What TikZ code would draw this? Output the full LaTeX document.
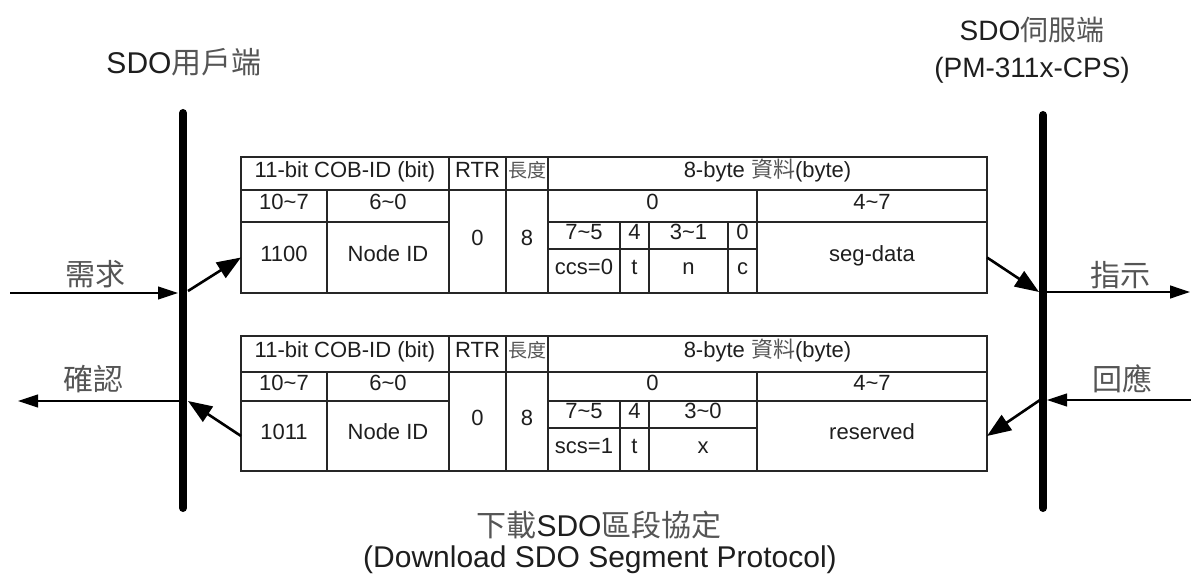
\documentclass[tikz,border=0pt]{standalone}
\usepackage{fontspec}
\setmainfont{Liberation Sans}
\newfontfamily\cjk{Noto Sans CJK TC}
\usetikzlibrary{arrows.meta}
\definecolor{txt}{HTML}{1E1E1E}
\definecolor{cjkc}{HTML}{555555}
\newcommand\cellbox[6]{\node[cell, minimum width={(#4-#2)*1pt}, minimum height={(#5-#3)*1pt}] (#1) at ({(#2+#4)/2},{(#3+#5)/2}) {#6};}
\newcommand\zh[1]{{\cjk\color{cjkc}#1}}
\tikzset{
  cell/.style={draw=black!85, line width=1.1pt, inner sep=0pt, outer sep=0pt,
    text=txt, font=\fontsize{22}{25}\selectfont, text height=0.72em, text depth=0pt, anchor=center},
  bar/.style={line width=8pt, line cap=round},
  thinarrow/.style={line width=1.2pt, -{Triangle[length=20pt 0 0,width=13pt 0 0]}},
  thickarrow/.style={line width=2.6pt, -{Triangle[length=24pt 0 0,width=18pt 0 0]}},
  lbl/.style={text=txt, inner sep=0pt},
}
\begin{document}
\begin{tikzpicture}[x=1pt,y=-1pt]
\useasboundingbox (0,0) rectangle (1191,577);
% bars
\coordinate (LT) at (183,113);
\coordinate (LB) at (183,508);
\coordinate (RT) at (1043,115);
\coordinate (RB) at (1043,508);
\draw[bar] (LT) -- (LB);
\draw[bar] (RT) -- (RB);
% titles
\node[lbl, font=\fontsize{30}{34}\selectfont] (client) at (184,62) {SDO\zh{用戶端}};
\node[lbl, font=\fontsize{28}{32}\selectfont] (server) at (1032,30) {SDO\zh{伺服端}};
\node[lbl, font=\fontsize{28}{32}\selectfont] (server2) at (1032,70) {(PM-311x-CPS)};
\node[lbl, font=\fontsize{30}{34}\selectfont] (bt1) at (599,525) {\zh{下載}SDO\zh{區段協定}};
\node[lbl, font=\fontsize{30}{34}\selectfont] (bt2) at (600,560) {(Download SDO Segment Protocol)};
% table 1
\cellbox{ah1}{241}{157}{449}{190}{11-bit COB-ID (bit)}
\cellbox{artr}{449}{157}{506}{190}{RTR}
\cellbox{alen}{506}{157}{548}{190}{{\fontsize{19}{22}\selectfont\zh{長度}}}
\cellbox{adata}{548}{157}{987}{190}{8-byte \zh{資料}(byte)}
\cellbox{ab107}{241}{190}{327}{222}{10\textasciitilde 7}
\cellbox{ab60}{327}{190}{449}{222}{6\textasciitilde 0}
\cellbox{artrv}{449}{190}{506}{293}{0}
\cellbox{alenv}{506}{190}{548}{293}{8}
\cellbox{abyte0}{548}{190}{757}{222}{0}
\cellbox{abyte47}{757}{190}{987}{222}{4\textasciitilde 7}
\cellbox{acob}{241}{222}{327}{293}{1100}
\cellbox{anode}{327}{222}{449}{293}{Node ID}
\cellbox{ab75}{548}{222}{620}{249}{7\textasciitilde 5}
\cellbox{ab4}{620}{222}{649}{249}{4}
\cellbox{ab31}{649}{222}{728}{249}{3\textasciitilde 1}
\cellbox{ab0}{728}{222}{757}{249}{0}
\cellbox{accs}{548}{249}{620}{293}{ccs=0}
\cellbox{at}{620}{249}{649}{293}{t}
\cellbox{an}{649}{249}{728}{293}{n}
\cellbox{ac}{728}{249}{757}{293}{c}
\cellbox{aseg}{757}{222}{987}{293}{seg-data}
% table 2
\cellbox{bh1}{241}{336}{449}{372}{11-bit COB-ID (bit)}
\cellbox{brtr}{449}{336}{506}{372}{RTR}
\cellbox{blen}{506}{336}{548}{372}{{\fontsize{19}{22}\selectfont\zh{長度}}}
\cellbox{bdata}{548}{336}{987}{372}{8-byte \zh{資料}(byte)}
\cellbox{bb107}{241}{372}{327}{401}{10\textasciitilde 7}
\cellbox{bb60}{327}{372}{449}{401}{6\textasciitilde 0}
\cellbox{brtrv}{449}{372}{506}{471}{0}
\cellbox{blenv}{506}{372}{548}{471}{8}
\cellbox{bbyte0}{548}{372}{757}{401}{0}
\cellbox{bbyte47}{757}{372}{987}{401}{4\textasciitilde 7}
\cellbox{bcob}{241}{401}{327}{471}{1011}
\cellbox{bnode}{327}{401}{449}{471}{Node ID}
\cellbox{bb75}{548}{401}{620}{428}{7\textasciitilde 5}
\cellbox{bb4}{620}{401}{649}{428}{4}
\cellbox{bb30}{649}{401}{757}{428}{3\textasciitilde 0}
\cellbox{bscs}{548}{428}{620}{471}{scs=1}
\cellbox{bt}{620}{428}{649}{471}{t}
\cellbox{bx}{649}{428}{757}{471}{x}
\cellbox{brsv}{757}{401}{987}{471}{reserved}
% connector points
\coordinate (reqS) at (10,293);
\coordinate (reqE) at (178,293);
\coordinate (d1S) at (188,291);
\coordinate (cnfS) at (179,401);
\coordinate (cnfE) at (18,401);
\coordinate (d2E) at (188,401);
\coordinate (d3E) at (1039,292);
\coordinate (indS) at (1047,292);
\coordinate (indE) at (1190,292);
\coordinate (rspS) at (1191,400);
\coordinate (rspE) at (1047,400);
\coordinate (d4S) at (1040,400);
% arrows
\draw[thinarrow] (reqS) -- (reqE);
\draw[thickarrow] (d1S) -- (acob.west);
\draw[thinarrow] (cnfS) -- (cnfE);
\draw[thickarrow] (bcob.west) -- (d2E);
\draw[thickarrow] (aseg.east) -- (d3E);
\draw[thinarrow] (indS) -- (indE);
\draw[thinarrow] (rspS) -- (rspE);
\draw[thickarrow] (d4S) -- (brsv.east);
% side labels
\node[lbl, font=\fontsize{30}{34}\selectfont] (req) at (95,274) {\zh{需求}};
\node[lbl, font=\fontsize{30}{34}\selectfont] (cnf) at (93,379) {\zh{確認}};
\node[lbl, font=\fontsize{30}{34}\selectfont] (ind) at (1120,275) {\zh{指示}};
\node[lbl, font=\fontsize{30}{34}\selectfont] (rsp) at (1122,379) {\zh{回應}};
\end{tikzpicture}
\end{document}
